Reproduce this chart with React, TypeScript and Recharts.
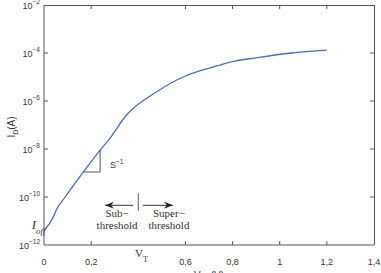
import React from 'react';
import {
  LineChart,
  Line,
  XAxis,
  YAxis,
  ReferenceLine,
  ReferenceDot
} from 'recharts';

// V_GS (V) and I_D (A)
const vgs = [0, 0.04, 0.05, 0.09, 0.167, 0.238, 0.273, 0.35, 0.48, 0.6, 0.66, 0.75, 0.8, 0.9, 1.05, 1.2];
const idA = [4e-12, 1.5e-11, 2.6e-11, 1e-10, 1.1e-9, 9e-9, 2.3e-8, 2.6e-7, 2.5e-6, 1.1e-5, 1.8e-5, 3.2e-5, 4.4e-5, 6.3e-5, 1e-4, 1.33e-4];

const xTicks = [0, 0.2, 0.6, 0.8, 1, 1.2, 1.4];
const yTicks = [1e-12, 1e-10, 1e-8, 1e-6, 1e-4, 1e-2];
const yExp = ['\u221212', '\u221210', '\u22128', '\u22126', '\u22124', '\u22122'];

const data = vgs.map((v, i) => ({ vgs: v, id: idA[i] }));

const W = 381;
const H = 273;
const MARGIN = { top: 5, right: 7, bottom: 0, left: 0 };
const Y_W = 44;
const X_H = 28;
// plot box, derived from the chart layout above
const PL = MARGIN.left + Y_W;
const PR = W - MARGIN.right;
const PT = MARGIN.top;
const PB = H - MARGIN.bottom - X_H;

const AXIS = '#555';
const TXT = '#333';
const SERIF = '"Liberation Serif", "DejaVu Serif", serif';
const SANS = '"Liberation Sans", Arial, sans-serif';

const fmtX = (v: number) => String(v).replace('.', ',');

const BottomTick = (p: any) => {
  const { x, y, payload } = p;
  const edge = payload.value === 0 || payload.value === 1.4;
  return (
    <g>
      {!edge && <line x1={x} y1={y} x2={x} y2={y - 4} stroke={AXIS} />}
      <text x={x} y={y + 20} textAnchor="middle" fontSize={9} fontFamily={SANS} fill={TXT}>
        {fmtX(payload.value)}
      </text>
    </g>
  );
};

const LeftTick = (p: any) => {
  const { x, y, index } = p;
  const edge = index === 0 || index === yTicks.length - 1;
  return (
    <g>
      {!edge && <line x1={x} y1={y} x2={x + 4} y2={y} stroke={AXIS} />}
      <text x={x - 4} y={y + 4} textAnchor="end" fontFamily={SANS} fill={TXT}>
        <tspan fontSize={9}>10</tspan>
        <tspan fontSize={6.5} dy={-5}>{yExp[index]}</tspan>
      </text>
    </g>
  );
};

const arrow = (dir: 'left' | 'right') => (p: any) => {
  const { x1, y1, x2, y2 } = p;
  const tipX = dir === 'left' ? Math.min(x1, x2) : Math.max(x1, x2);
  const s = dir === 'left' ? 1 : -1;
  return (
    <g>
      <line x1={x1} y1={y1} x2={x2} y2={y2} stroke="#333" strokeWidth={1} />
      <path d={`M${tipX},${y1} L${tipX + s * 9},${y1 - 3.5} L${tipX + s * 6},${y1} L${tipX + s * 9},${y1 + 3.5} Z`} fill="#222" />
    </g>
  );
};

const label = (lines: string[], size = 11) => (p: any) => (
  <text x={p.cx} y={p.cy} textAnchor="middle" fontFamily={SERIF} fontSize={size} fill={TXT}>
    {lines.map((l, i) => (
      <tspan key={i} x={p.cx} dy={i === 0 ? 0 : 12}>{l}</tspan>
    ))}
  </text>
);

const SlopeLabel = (p: any) => (
  <text x={p.cx} y={p.cy} fontFamily={SANS} fill={TXT}>
    <tspan fontSize={9}>S</tspan>
    <tspan fontSize={6.5} dy={-4}>{'\u22121'}</tspan>
  </text>
);

const IoffLabel = (p: any) => (
  <text x={p.cx} y={p.cy} fontFamily={SERIF} fill={TXT} fontStyle="italic">
    <tspan fontSize={13}>I</tspan>
    <tspan fontSize={9} dy={5}>off</tspan>
  </text>
);

// top and right frame of the box plot, with inward ticks
const Frame = () => {
  const tx = (t: number) => PL + ((PR - PL) * t) / 1.4;
  const ty = (t: number) => PT + ((PB - PT) * (-2 - Math.log10(t))) / 10;
  return (
    <g stroke={AXIS} strokeWidth={1}>
      <line x1={PL} y1={PT + 0.5} x2={PR + 0.5} y2={PT + 0.5} />
      <line x1={PR + 0.5} y1={PT} x2={PR + 0.5} y2={PB} />
      {xTicks.slice(1, -1).map((t) => (
        <line key={`x${t}`} x1={tx(t)} y1={PT} x2={tx(t)} y2={PT + 4} />
      ))}
      {yTicks.slice(1, -1).map((t) => (
        <line key={`y${t}`} x1={PR} y1={ty(t)} x2={PR - 4} y2={ty(t)} />
      ))}
    </g>
  );
};

export default function App() {
  return (
    <div style={{ position: 'absolute', left: 0, top: 0, width: W, height: H, background: '#fff', overflow: 'hidden' }}>
      <LineChart width={W} height={H} data={data} margin={MARGIN}>
        <XAxis
          dataKey="vgs"
          type="number"
          domain={[0, 1.4]}
          ticks={xTicks}
          interval={0}
          height={X_H}
          tickSize={0}
          tickMargin={0}
          tickLine={false}
          stroke={AXIS}
          tick={<BottomTick />}
        />
        <YAxis
          scale="log"
          domain={[1e-12, 1e-2]}
          ticks={yTicks}
          interval={0}
          width={Y_W}
          tickSize={0}
          tickMargin={0}
          tickLine={false}
          allowDataOverflow
          stroke={AXIS}
          tick={<LeftTick />}
        />
        <Line
          type="monotone"
          dataKey="id"
          stroke="#4a6db3"
          strokeWidth={1.3}
          dot={false}
          isAnimationActive={false}
        />
        {/* slope triangle */}
        <ReferenceLine segment={[{ x: 0.167, y: 1.1e-9 }, { x: 0.238, y: 1.1e-9 }]} stroke="#555" />
        <ReferenceLine segment={[{ x: 0.238, y: 1.1e-9 }, { x: 0.238, y: 9e-9 }]} stroke="#555" />
        <ReferenceDot x={0.28} y={1.6e-9} r={0} shape={<SlopeLabel />} />
        {/* V_T separator and arrows */}
        <ReferenceLine segment={[{ x: 0.4, y: 1.4e-10 }, { x: 0.4, y: 2.7e-11 }]} stroke="#555" />
        <ReferenceLine segment={[{ x: 0.259, y: 4.5e-11 }, { x: 0.378, y: 4.5e-11 }]} shape={arrow('left')} />
        <ReferenceLine segment={[{ x: 0.42, y: 4.5e-11 }, { x: 0.547, y: 4.5e-11 }]} shape={arrow('right')} />
        <ReferenceDot x={0.31} y={1.5e-11} r={0} shape={label(['Sub\u2212', 'threshold'])} />
        <ReferenceDot x={0.53} y={1.5e-11} r={0} shape={label(['Super\u2212', 'threshold'])} />
        <ReferenceDot x={-0.052} y={4.6e-12} r={0} ifOverflow="visible" shape={<IoffLabel />} />
      </LineChart>
      <svg width={W} height={H} style={{ position: 'absolute', left: 0, top: 0, pointerEvents: 'none' }}>
        <Frame />
        <text x={135} y={257} fontFamily={SERIF} fill={TXT}>
          <tspan fontSize={11}>V</tspan>
          <tspan fontSize={8} dy={5}>T</tspan>
        </text>
        <text x={209} y={279} textAnchor="middle" fontFamily={SANS} fill={TXT}>
          <tspan fontSize={10}>V</tspan>
          <tspan fontSize={7} dy={3}>GS</tspan>
          <tspan fontSize={10} dy={-3}>(V)</tspan>
        </text>
        <text transform="translate(15,127) rotate(-90)" textAnchor="middle" fontFamily={SANS} fill={TXT}>
          <tspan fontSize={10}>I</tspan>
          <tspan fontSize={7} dy={3}>D</tspan>
          <tspan fontSize={10} dy={-3}>(A)</tspan>
        </text>
      </svg>
    </div>
  );
}
